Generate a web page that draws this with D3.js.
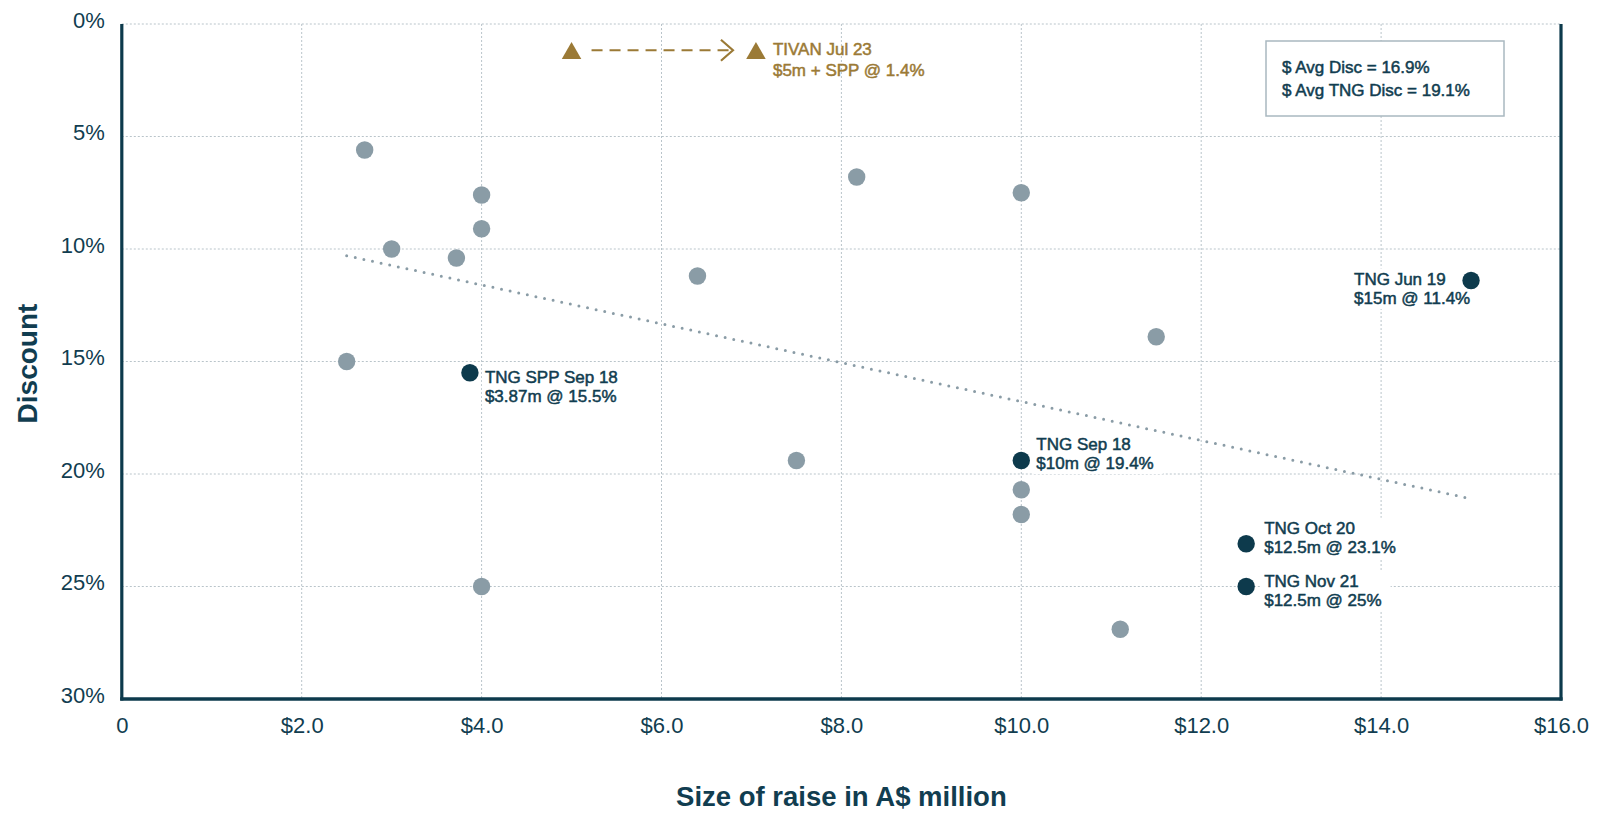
<!DOCTYPE html>
<html>
<head>
<meta charset="utf-8">
<script src="https://cdn.jsdelivr.net/npm/d3@7"></script>
<style>
  html, body { margin: 0; padding: 0; background: #ffffff; }
  svg { display: block; font-family: "Liberation Sans", Arial, sans-serif; }
</style>
</head>
<body>
<svg id="chart" width="1613" height="813"></svg>
<script>
// ---------- DATA ----------
const peerRaise    = [2.7, 4.0, 4.0, 3.0, 3.72, 2.5, 4.0, 8.17, 10.0, 6.4, 11.5, 7.5, 10.0, 10.0, 11.1];
const peerDiscount = [5.6, 7.6, 9.1, 10.0, 10.4, 15.0, 25.0, 6.8, 7.5, 11.2, 13.9, 19.4, 20.7, 21.8, 26.9];

const tngRaise     = [3.87, 10.0, 12.5, 12.5, 15.0];
const tngDiscount  = [15.5, 19.4, 23.1, 25.0, 11.4];
const tngTitle     = ["TNG SPP Sep 18", "TNG Sep 18", "TNG Oct 20", "TNG Nov 21", "TNG Jun 19"];
const tngDetail    = ["$3.87m @ 15.5%", "$10m @ 19.4%", "$12.5m @ 23.1%", "$12.5m @ 25%", "$15m @ 11.4%"];

const tivanRaise    = [5.0, 7.05];
const tivanDiscount = [1.3, 1.3];
const tivanLabel    = ["TIVAN Jul 23", "$5m + SPP @ 1.4%"];

const trendRaise    = [2.5, 15.0];
const trendDiscount = [10.3, 21.1];

const legendLines = ["$ Avg Disc = 16.9%", "$ Avg TNG Disc = 19.1%"];

const xTicks = [0, 2, 4, 6, 8, 10, 12, 14, 16];
const yTicks = [0, 5, 10, 15, 20, 25, 30];
const xTitle = "Size of raise in A$ million";
const yTitle = "Discount";

// ---------- LAYOUT / STYLE ----------
const DARK = "#0d3a4c", GREY = "#8a9ca6", GOLD = "#9b7a36", GRID = "#b9c4ca", TEXT = "#113d50";
const LABEL_SIZE = 17, LABEL_STROKE = 0.5;
// label offsets (px) relative to each TNG point: [dx, dy of first baseline]
const tngLabelOffset = [[15, 10], [15, -11], [18, -10], [18, 0], [-117, 4]];

const svg = d3.select("#chart");
const x = d3.scaleLinear().domain([0, 16]).range([121.8, 1561]);
const y = d3.scaleLinear().domain([0, 30]).range([24, 699]);

// gridlines
const grid = svg.append("g");
grid.selectAll("line.h").data(yTicks.filter(d => d < 30)).join("line")
  .attr("x1", x(0)).attr("x2", x(16)).attr("y1", d => y(d)).attr("y2", d => y(d))
  .attr("stroke", GRID).attr("stroke-width", 1).attr("stroke-dasharray", "2,2");
grid.selectAll("line.v").data(xTicks.filter(d => d > 0 && d < 16)).join("line")
  .attr("x1", d => x(d)).attr("x2", d => x(d)).attr("y1", y(0)).attr("y2", y(30))
  .attr("stroke", GRID).attr("stroke-width", 1).attr("stroke-dasharray", "2,2");

// axes
const xAxis = d3.axisBottom(x).tickValues(xTicks)
  .tickFormat(d => d === 0 ? "0" : "$" + d.toFixed(1)).tickSize(0).tickPadding(18);
const gx = svg.append("g").attr("transform", `translate(0,${y(30)})`).call(xAxis);
gx.select(".domain").remove();
gx.selectAll("text").attr("font-size", 22).attr("fill", TEXT).attr("font-family", "Liberation Sans, Arial, sans-serif");

const yAxis = d3.axisLeft(y).tickValues(yTicks).tickFormat(d => d + "%").tickSize(0).tickPadding(17);
const gy = svg.append("g").attr("transform", `translate(${x(0)},0)`).call(yAxis);
gy.select(".domain").remove();
gy.selectAll("text").attr("font-size", 22).attr("fill", TEXT).attr("dy", "0.14em")
  .attr("font-family", "Liberation Sans, Arial, sans-serif");

// frame lines: left, right, bottom
svg.append("line").attr("x1", x(0)).attr("x2", x(0)).attr("y1", y(0)).attr("y2", y(30) + 1.5)
  .attr("stroke", DARK).attr("stroke-width", 3.2);
svg.append("line").attr("x1", x(16)).attr("x2", x(16)).attr("y1", y(0)).attr("y2", y(30) + 1.5)
  .attr("stroke", DARK).attr("stroke-width", 3.2);
svg.append("line").attr("x1", x(0) - 1.6).attr("x2", x(16) + 1.6).attr("y1", y(30)).attr("y2", y(30))
  .attr("stroke", DARK).attr("stroke-width", 3.6);

// axis titles
svg.append("text").attr("x", (x(0) + x(16)) / 2).attr("y", 806)
  .attr("text-anchor", "middle").attr("font-size", 27.5).attr("font-weight", "bold")
  .attr("fill", TEXT).text(xTitle);
svg.append("text").attr("transform", `translate(37,${(y(0) + y(30)) / 2 + 2}) rotate(-90)`)
  .attr("text-anchor", "middle").attr("font-size", 28).attr("font-weight", "bold")
  .attr("fill", TEXT).text(yTitle);

// trend line
svg.append("path")
  .datum(trendRaise.map((r, i) => [r, trendDiscount[i]]))
  .attr("d", d3.line().x(d => x(d[0])).y(d => y(d[1])))
  .attr("fill", "none").attr("stroke", GREY).attr("stroke-width", 3)
  .attr("stroke-linecap", "round").attr("stroke-dasharray", "0,8.8");

// legend box
const lg = svg.append("g");
lg.append("rect").attr("x", x(16) - 295).attr("y", y(0) + 17).attr("width", 238).attr("height", 75)
  .attr("fill", "#fff").attr("stroke", "#a9b8c0").attr("stroke-width", 1.5);
lg.selectAll("text").data(legendLines).join("text")
  .attr("x", x(16) - 279).attr("y", (d, i) => y(0) + 49 + i * 23)
  .attr("font-size", LABEL_SIZE).attr("fill", TEXT)
  .attr("stroke", TEXT).attr("stroke-width", LABEL_STROKE)
  .text(d => d);

// TIVAN annotation
const tivanY = y(tivanDiscount[0]);
const tv = svg.append("g");
const tvLabel = tv.append("g");
tvLabel.selectAll("text").data(tivanLabel).join("text")
  .attr("x", x(tivanRaise[1]) + 17).attr("y", (d, i) => tivanY + 2 + i * 21)
  .attr("font-size", LABEL_SIZE).attr("fill", GOLD).attr("stroke", GOLD).attr("stroke-width", LABEL_STROKE)
  .text(d => d);
const arrowStart = x(tivanRaise[0]) + 20, arrowEnd = x(tivanRaise[1]) - 23, arrowY = tivanY - 3;
tv.append("line").attr("x1", arrowStart).attr("x2", arrowEnd - 2).attr("y1", arrowY).attr("y2", arrowY)
  .attr("stroke", GOLD).attr("stroke-width", 2.2).attr("stroke-dasharray", "11,7");
tv.append("path")
  .attr("d", d3.line()([[arrowEnd - 12, arrowY - 10.5], [arrowEnd, arrowY], [arrowEnd - 12, arrowY + 10.5]]))
  .attr("fill", "none").attr("stroke", GOLD).attr("stroke-width", 2.2);
tv.selectAll("path.tri").data(tivanRaise).join("path").attr("class", "tri")
  .attr("transform", (d, i) => `translate(${x(d)},${y(tivanDiscount[i])})`)
  .attr("d", d3.symbol(d3.symbolTriangle, 165)())
  .attr("fill", GOLD);

// peer points
svg.append("g").selectAll("circle").data(peerRaise).join("circle")
  .attr("cx", d => x(d)).attr("cy", (d, i) => y(peerDiscount[i])).attr("r", 8.7)
  .attr("fill", GREY);

// TNG labels with white background
const labels = svg.append("g");
tngRaise.forEach((r, i) => {
  const g = labels.append("g");
  const lx = x(r) + tngLabelOffset[i][0];
  const ly = y(tngDiscount[i]) + tngLabelOffset[i][1];
  const bg = g.append("rect").attr("fill", "#fff");
  g.selectAll("text").data([tngTitle[i], tngDetail[i]]).join("text")
    .attr("x", lx).attr("y", (d, k) => ly + k * 19.5)
    .attr("font-size", LABEL_SIZE).attr("fill", TEXT).attr("stroke", TEXT).attr("stroke-width", LABEL_STROKE)
    .text(d => d);
  const bb = g.node().getBBox();
  bg.attr("x", bb.x - 3).attr("y", bb.y - 1).attr("width", bb.width + 12).attr("height", bb.height + 2);
});

// TNG points
svg.append("g").selectAll("circle").data(tngRaise).join("circle")
  .attr("cx", d => x(d)).attr("cy", (d, i) => y(tngDiscount[i])).attr("r", 8.7)
  .attr("fill", DARK);
</script>
</body>
</html>
